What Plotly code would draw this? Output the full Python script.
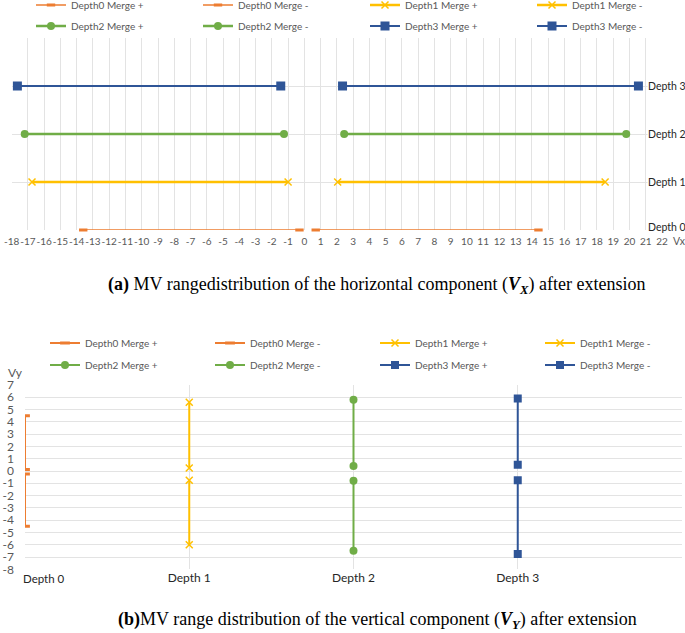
import plotly.graph_objects as go

W, H = 685, 633

# ---------------- data ----------------
depth_index = [0, 1, 2, 3]
depth_labels = ["Depth 0", "Depth 1", "Depth 2", "Depth 3"]
plus_names = ["Depth0 Merge +", "Depth1 Merge +", "Depth2 Merge +", "Depth3 Merge +"]
minus_names = ["Depth0 Merge -", "Depth1 Merge -", "Depth2 Merge -", "Depth3 Merge -"]

# (a) horizontal component Vx : [start, end] of each range
vx_plus_start = [0.7, 2.05, 2.45, 2.35]
vx_plus_end = [14.4, 18.5, 19.8, 20.55]
vx_minus_start = [-13.6, -16.75, -17.2, -17.65]
vx_minus_end = [-0.3, -1.0, -1.25, -1.45]

# (b) vertical component Vy : [low, high] of each range
vy_plus_low = [0.125, 0.25, 0.4, 0.5]
vy_plus_high = [4.5, 5.6, 5.8, 5.9]
vy_minus_low = [-4.5, -6.0, -6.5, -6.75]
vy_minus_high = [-0.25, -0.75, -0.8, -0.75]

# tick labels (plain hyphen minus, as in the reference)
vx_ticks = [-18, -17, -16, -15, -14, -13, -12, -11, -10, -9, -8, -7, -6, -5, -4, -3, -2, -1,
            0, 1, 2, 3, 4, 5, 6, 7, 8, 9, 10, 11, 12, 13, 14, 15, 16, 17, 18, 19, 20, 21, 22]
vx_tick_labels = [str(v) for v in vx_ticks]
vy_ticks = [7, 6, 5, 4, 3, 2, 1, 0, -1, -2, -3, -4, -5, -6, -7, -8]
vy_tick_labels = [str(v) for v in vy_ticks]

caption_a = ("<b>(a)</b> MV rangedistribution of the horizontal component "
             "(<b><i>V</i></b><sub><b><i>X</i></b></sub>) after extension")
caption_b = ("<b>(b)</b>MV range distribution of the vertical component "
             "(<b><i>V</i></b><sub><b><i>Y</i></b></sub>) after extension")

# ---------------- styles ----------------
colors = ["#ED7D31", "#FFC000", "#70AD47", "#2F5597"]
line_w_top = [1.5, 2.5, 2.5, 2.0]
line_w_bot = [2.0, 2.0, 2.0, 2.0]


def marker(i, big=False):
    c = colors[i]
    if i == 0:
        return dict(symbol="line-ew", size=6 if big else 7, color=c, line=dict(color=c, width=3))
    if i == 1:
        return dict(symbol="x-thin", size=7, color=c, line=dict(color=c, width=1.5))
    if i == 2:
        return dict(symbol="circle", size=8, color=c, line=dict(width=0))
    return dict(symbol="square", size=9 if big else 8, color=c, line=dict(width=0))


FONT = "Lato, 'Open Sans', sans-serif"
GRAY = "#595959"
GRID = "#E3E3E3"

fig = go.Figure()


def legend_name(panel, d):
    row = 0 if d < 2 else 1
    idx = 1 + panel * 2 + row
    return "legend" if idx == 1 else f"legend{idx}"


def entry_width(d, sign, spacing):
    pos = (d % 2) * 2 + sign
    return spacing - 45 if pos < 3 else 90


# top panel traces
for d in depth_index:
    for sign, (name, xs, xe) in enumerate([
        (plus_names[d], vx_plus_start[d], vx_plus_end[d]),
        (minus_names[d], vx_minus_start[d], vx_minus_end[d]),
    ]):
        fig.add_trace(go.Scatter(
            x=[xs, xe], y=[depth_index[d], depth_index[d]],
            mode="lines+markers", name=name,
            line=dict(color=colors[d], width=line_w_top[d]),
            marker=marker(d, big=True),
            xaxis="x", yaxis="y",
            legend=legend_name(0, d),
            legendwidth=entry_width(d, sign, 167),
            cliponaxis=False,
        ))

# bottom panel traces
for d in depth_index:
    for sign, (name, lo, hi) in enumerate([
        (plus_names[d], vy_plus_low[d], vy_plus_high[d]),
        (minus_names[d], vy_minus_low[d], vy_minus_high[d]),
    ]):
        fig.add_trace(go.Scatter(
            x=[depth_index[d], depth_index[d]], y=[hi, lo],
            mode="lines+markers", name=name,
            line=dict(color=colors[d], width=line_w_bot[d]),
            marker=marker(d),
            xaxis="x2", yaxis="y2",
            legend=legend_name(1, d),
            legendwidth=entry_width(d, sign, 165),
            cliponaxis=True,
        ))


def px_x(p):
    return p / W


def px_y(p):
    return 1 - p / H


leg_common = dict(orientation="h", xanchor="left", yanchor="middle",
                  font=dict(family=FONT, size=10, color=GRAY),
                  bgcolor="rgba(0,0,0,0)", itemwidth=30)

fig.update_layout(
    width=W, height=H, autosize=False,
    margin=dict(l=0, r=0, t=0, b=0, autoexpand=False),
    paper_bgcolor="white", plot_bgcolor="white",
    font=dict(family=FONT, color=GRAY),
    legend=dict(x=px_x(31), y=px_y(5), **leg_common),
    legend2=dict(x=px_x(31), y=px_y(26), **leg_common),
    legend3=dict(x=px_x(45), y=px_y(343), **leg_common),
    legend4=dict(x=px_x(45), y=px_y(365), **leg_common),
    xaxis=dict(domain=[px_x(11.7), px_x(662)], range=[-18, 22],
               tickvals=vx_ticks, ticktext=vx_tick_labels,
               showgrid=True, gridcolor=GRID, gridwidth=1, zeroline=False,
               showline=False, ticks="", tickangle=0, ticklabelstandoff=4,
               tickfont=dict(family=FONT, size=10, color=GRAY), anchor="y"),
    yaxis=dict(domain=[px_y(230), px_y(38)], range=[0, 4], tickvals=depth_index,
               showticklabels=False, showgrid=True, gridcolor=GRID, zeroline=False,
               showline=False, ticks="", anchor="x"),
    xaxis2=dict(domain=[px_x(25), px_x(682)], range=[0, 4],
                tickvals=depth_index[1:], ticktext=depth_labels[1:],
                minor=dict(tickmode="array", tickvals=[0, 4], showgrid=True,
                           gridcolor=GRID, gridwidth=1, ticks=""),
                showgrid=True, gridcolor=GRID, zeroline=False, showline=False, ticks="",
                tickangle=0, tickfont=dict(family=FONT, size=12, color="#262626"),
                anchor="y2"),
    yaxis2=dict(domain=[px_y(569.3), px_y(385)], range=[-8, 7],
                tickvals=vy_ticks, ticktext=vy_tick_labels,
                showgrid=True, gridcolor=GRID, zeroline=False, showline=False,
                ticks="", ticklabelstandoff=10,
                tickfont=dict(family=FONT, size=12, color=GRAY), anchor="x2"),
)

annotations = []
# right-hand depth labels of panel (a)
for d in depth_index:
    annotations.append(dict(
        x=px_x(647), y=depth_index[d], xref="paper", yref="y",
        text=depth_labels[d], showarrow=False, xanchor="left", yanchor="middle",
        yshift=3 if d == 0 else 0, borderpad=0,
        font=dict(family=FONT, size=10.5, color="#262626"), bgcolor="white"))
annotations += [
    dict(x=px_x(672), y=px_y(241), xref="paper", yref="paper", text="Vx",
         showarrow=False, xanchor="left", yanchor="middle", borderpad=0,
         font=dict(family=FONT, size=10.5, color=GRAY)),
    dict(x=px_x(7), y=px_y(372), xref="paper", yref="paper", text="Vy",
         showarrow=False, xanchor="left", yanchor="middle", borderpad=0,
         font=dict(family=FONT, size=12, color=GRAY)),
    dict(x=px_x(22), y=px_y(578), xref="paper", yref="paper", text=depth_labels[0],
         showarrow=False, xanchor="left", yanchor="middle", borderpad=0,
         font=dict(family=FONT, size=11.5, color="#262626")),
    dict(x=px_x(376), y=px_y(285), xref="paper", yref="paper", text=caption_a,
         showarrow=False, xanchor="center", yanchor="middle",
         font=dict(family="Liberation Serif, Times New Roman, serif", size=18, color="black")),
    dict(x=px_x(377), y=px_y(620), xref="paper", yref="paper", text=caption_b,
         showarrow=False, xanchor="center", yanchor="middle",
         font=dict(family="Liberation Serif, Times New Roman, serif", size=18, color="black")),
]
fig.update_layout(annotations=annotations)

fig.write_html(
    "out.html",
    config={"displayModeBar": False},
    post_script="document.body.style.margin='0px';document.body.style.overflow='hidden';",
)
